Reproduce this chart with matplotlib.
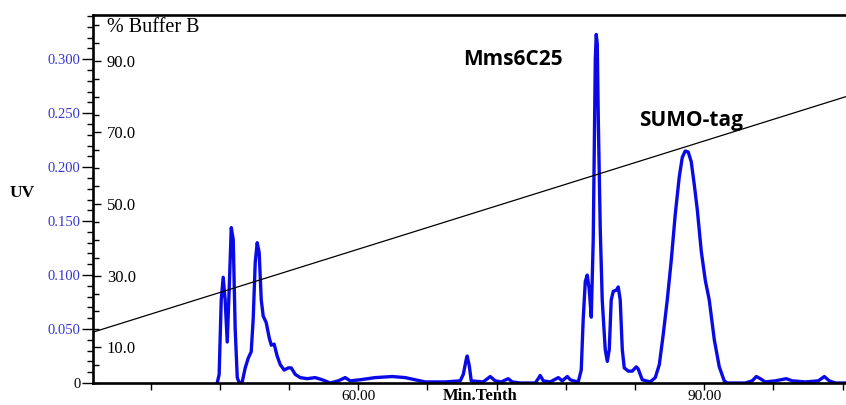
"""
Chromatogram: UV trace with % Buffer B gradient (Mms6C25 / SUMO-tag).
"""

import matplotlib
matplotlib.use('Agg')                       # headless
import matplotlib.pyplot as plt
from matplotlib.ticker import MultipleLocator, FuncFormatter


# ---- data ----
time_min = [
    47.77, 47.94, 48.12, 48.29, 48.46, 48.64, 48.81, 48.99, 49.16, 49.33,
    49.51, 49.68, 49.94, 50.20, 50.46, 50.72, 50.89, 51.07, 51.24, 51.41,
    51.59, 51.76, 52.02, 52.28, 52.46, 52.71, 52.97, 53.24, 53.58, 53.93,
    54.19, 54.54, 54.97, 55.58, 56.27, 56.88, 57.57, 58.27, 58.87, 59.31,
    60.17, 61.47, 62.95, 64.08, 64.94, 65.81, 67.55, 68.85, 69.11, 69.37,
    69.45, 69.63, 69.80, 70.84, 71.45, 71.88, 72.40, 73.01, 73.36, 74.05,
    75.35, 75.61, 75.78, 76.05, 76.65, 77.17, 77.35, 77.69, 78.13, 78.39,
    78.65, 79.08, 79.34, 79.51, 79.69, 79.86, 80.03, 80.21, 80.38, 80.47,
    80.56, 80.64, 80.73, 80.82, 80.99, 81.16, 81.42, 81.60, 81.77, 81.94,
    82.12, 82.38, 82.55, 82.72, 82.90, 83.07, 83.42, 83.76, 84.11, 84.28,
    84.63, 85.32, 85.76, 86.11, 86.45, 86.80, 87.15, 87.49, 87.84, 88.10,
    88.36, 88.62, 88.88, 89.14, 89.40, 89.75, 90.10, 90.44, 90.88, 91.31,
    91.74, 92.00, 93.56, 94.17, 94.52, 94.87, 95.30, 96.17, 97.12, 97.64,
    98.77, 99.90, 100.42, 100.85, 101.37, 102.32,
]
uv_abs = [
    0.000, 0.008, 0.077, 0.098, 0.077, 0.038, 0.087, 0.144, 0.133, 0.050,
    0.005, 0.000, 0.001, 0.014, 0.023, 0.029, 0.059, 0.112, 0.130, 0.121,
    0.077, 0.062, 0.056, 0.042, 0.035, 0.036, 0.025, 0.017, 0.012, 0.014,
    0.014, 0.008, 0.005, 0.004, 0.005, 0.003, 0.000, 0.002, 0.005, 0.002,
    0.003, 0.005, 0.006, 0.005, 0.003, 0.001, 0.001, 0.002, 0.008, 0.022,
    0.025, 0.016, 0.002, 0.001, 0.006, 0.002, 0.001, 0.004, 0.001, 0.000,
    0.000, 0.004, 0.007, 0.002, 0.001, 0.004, 0.005, 0.002, 0.006, 0.003,
    0.002, 0.001, 0.012, 0.059, 0.094, 0.100, 0.087, 0.061, 0.133, 0.216,
    0.300, 0.323, 0.314, 0.244, 0.142, 0.077, 0.031, 0.020, 0.031, 0.077,
    0.085, 0.086, 0.089, 0.077, 0.031, 0.014, 0.011, 0.011, 0.015, 0.013,
    0.003, 0.001, 0.005, 0.017, 0.045, 0.077, 0.114, 0.156, 0.191, 0.209,
    0.215, 0.214, 0.205, 0.184, 0.161, 0.122, 0.095, 0.077, 0.040, 0.015,
    0.002, 0.000, 0.000, 0.002, 0.006, 0.004, 0.001, 0.002, 0.004, 0.002,
    0.001, 0.002, 0.006, 0.002, 0.000, 0.000,
]

gradient_time = [37.0, 102.3]
gradient_buffer_b = [14.2, 80.0]

uv_ticks = [0, 0.05, 0.10, 0.15, 0.20, 0.25, 0.30]
buffer_ticks = [10, 30, 50, 70, 90]
time_labelled = [60, 90]

peak_labels = ['Mms6C25', 'SUMO-tag']
peak_label_time = [73.4, 88.9]
peak_label_uv = [0.300, 0.243]

TRACE = '#0a0ae6'
UV_TXT = '#3535d0'
SERIF = 'Liberation Serif'


fig = plt.figure(figsize=(8.46, 4.05), dpi=100)
ax = fig.add_axes([93 / 846, 22 / 405, 753 / 846, 368 / 405])
ax2 = ax.twinx()

# ---- UV trace ----
ax.plot(time_min, uv_abs, color=TRACE, linewidth=2.4, solid_joinstyle='round')
ax.set_xlim(37.0, 102.3)
ax.set_ylim(0, 0.341)

ax.set_yticks(uv_ticks)
ax.yaxis.set_major_formatter(FuncFormatter(lambda v, p: '0' if v == 0 else f'{v:.3f}'))
ax.yaxis.set_minor_locator(MultipleLocator(0.01))
ax.tick_params(axis='y', which='major', direction='out', length=8, width=1,
               labelcolor=UV_TXT, labelsize=10.5, pad=1)
ax.tick_params(axis='y', which='minor', direction='out', length=4, width=1)
for lab in ax.get_yticklabels():
    lab.set_fontfamily(SERIF)
ax.get_yticklabels()[0].set_color('black')

ax.xaxis.set_major_locator(MultipleLocator(6))
ax.xaxis.set_major_formatter(FuncFormatter(
    lambda v, p: f'{v:.2f}' if round(v) in time_labelled else ''))
ax.tick_params(axis='x', direction='out', length=5, width=1, labelsize=11, pad=0)
for lab in ax.get_xticklabels():
    lab.set_fontfamily(SERIF)

ax.set_xlabel('Min.Tenth', fontfamily=SERIF, fontweight='bold', fontsize=12,
              va='center')
ax.xaxis.set_label_coords(0.514, -0.036)
ax.set_ylabel('UV', fontfamily=SERIF, fontweight='bold', fontsize=12.5,
              rotation=0, va='center', ha='center')
ax.yaxis.set_label_coords(-0.094, 0.516)

for side in ['left', 'bottom', 'top']:
    ax.spines[side].set_linewidth(1.9)
ax.spines['right'].set_visible(False)

# ---- % Buffer B gradient ----
ax2.plot(gradient_time, gradient_buffer_b, color='black', linewidth=0.9)
ax2.set_ylim(0, 102.8)
ax2.yaxis.set_ticks_position('left')
ax2.set_yticks(buffer_ticks)
ax2.yaxis.set_major_formatter(FuncFormatter(lambda v, p: f'{v:.1f}'))
ax2.yaxis.set_minor_locator(MultipleLocator(5))
ax2.tick_params(axis='y', which='major', direction='in', length=6, width=1,
                labelsize=12, pad=-10, labelleft=True, labelright=False)
ax2.tick_params(axis='y', which='minor', direction='in', length=4, width=1)
for lab in ax2.get_yticklabels():
    lab.set_horizontalalignment('left')
    lab.set_fontfamily(SERIF)
for side in ax2.spines:
    ax2.spines[side].set_visible(False)

ax2.text(0.0186, 0.965, '% Buffer B', transform=ax2.transAxes,
         fontfamily=SERIF, fontsize=14.5, va='center', ha='left')

# ---- peak annotations ----
for name, t, uv in zip(peak_labels, peak_label_time, peak_label_uv):
    ax.text(t, uv, name, fontfamily='Open Sans', fontweight='bold',
            fontsize=15, ha='center', va='center')

fig.savefig('out.png', dpi=100)
